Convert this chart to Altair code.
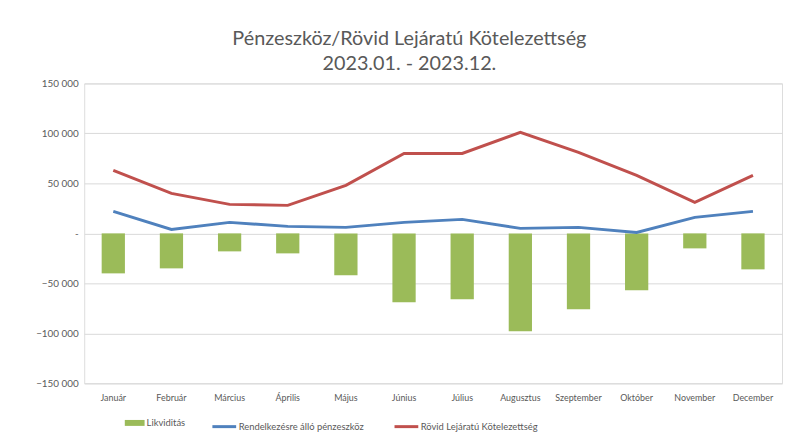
import altair as alt
import pandas as pd

months = ["Január", "Február", "Március", "Április", "Május", "Június",
          "Július", "Augusztus", "Szeptember", "Október", "November", "December"]
likviditas = [-40000, -35000, -18000, -20000, -42000, -69000,
              -66000, -98000, -76000, -57000, -15000, -36000]
penzeszkoz = [22000, 4000, 11000, 7000, 6000, 11000,
              14000, 5000, 6000, 1000, 16000, 22000]
kotelezettseg = [63000, 40000, 29000, 28000, 48000, 80000,
                 80000, 101000, 81000, 58000, 31000, 58000]
series_names = ["Likviditás", "Rendelkezésre álló pénzeszköz", "Rövid Lejáratú Kötelezettség"]
series_colors = ["#9BBB59", "#4F81BD", "#C0504D"]
y_ticks = [-150000, -100000, -50000, 0, 50000, 100000, 150000]

bars = pd.DataFrame({"month": months, "value": likviditas, "series": series_names[0]})
lines = pd.concat([
    pd.DataFrame({"month": months, "value": penzeszkoz, "series": series_names[1]}),
    pd.DataFrame({"month": months, "value": kotelezettseg, "series": series_names[2]}),
])

FONT = "Lato"
GRAY = "#595959"

x_enc = alt.X("month:N", sort=months, title=None,
              scale=alt.Scale(paddingInner=0.6, paddingOuter=0.3),
              axis=alt.Axis(labelAngle=0, labelFontSize=9, labelColor=GRAY, labelFont=FONT,
                            domain=False, ticks=False, labelPadding=10, grid=False))
y_enc = alt.Y("value:Q", title=None,
              scale=alt.Scale(domain=[-150000, 150000], nice=False, zero=False),
              axis=alt.Axis(values=y_ticks, domain=False, ticks=False, labelFontSize=10,
                            labelColor=GRAY, labelFont=FONT, labelPadding=6,
                            gridColor="#d9d9d9", gridWidth=1,
                            labelExpr="datum.value == 0 ? '-' : replace(format(datum.value, ',d'), /,/g, ' ')"))

bar_color = alt.Color("series:N",
                      scale=alt.Scale(domain=series_names[:1], range=series_colors[:1]),
                      legend=alt.Legend(
                          title=None, orient="none", direction="horizontal",
                          legendX=41, legendY=333,
                          labelFont=FONT, labelFontSize=9.5, labelColor=GRAY,
                          symbolSize=400, symbolOffset=0, labelOffset=2,
                          symbolType="M-1,-0.3H1V0.3H-1Z", symbolStrokeWidth=0,
                          symbolOpacity=1))
line_stroke = alt.Stroke("series:N",
                         scale=alt.Scale(domain=series_names[1:], range=series_colors[1:]),
                         legend=alt.Legend(
                             title=None, orient="none", direction="horizontal",
                             legendX=128, legendY=333,
                             labelFont=FONT, labelFontSize=9.5, labelColor=GRAY,
                             symbolSize=576, symbolOffset=0, labelOffset=1,
                             columnPadding=24,
                             symbolType="stroke", symbolStrokeWidth=3))

bar_layer = alt.Chart(bars).mark_bar().encode(x=x_enc, y=y_enc, color=bar_color)
line_layer = alt.Chart(lines).mark_line(strokeWidth=3).encode(
    x=x_enc, y=y_enc, stroke=line_stroke, detail="series:N")

chart = alt.layer(bar_layer, line_layer).properties(
    width=705, height=303,
    autosize=alt.AutoSizeParams(type="none"),
    padding={"left": 77, "top": 74, "right": 3, "bottom": 50},
    title=alt.TitleParams(
        text=["Pénzeszköz/Rövid Lejáratú Kötelezettség", "2023.01. - 2023.12."],
        font=FONT, fontSize=20, fontWeight="normal", color=GRAY,
        anchor="middle", dx=-24, offset=5, lineHeight=25),
).configure_view(stroke=None).configure(background="white")

chart.save("out.html", embed_options={"renderer": "svg", "actions": False})
